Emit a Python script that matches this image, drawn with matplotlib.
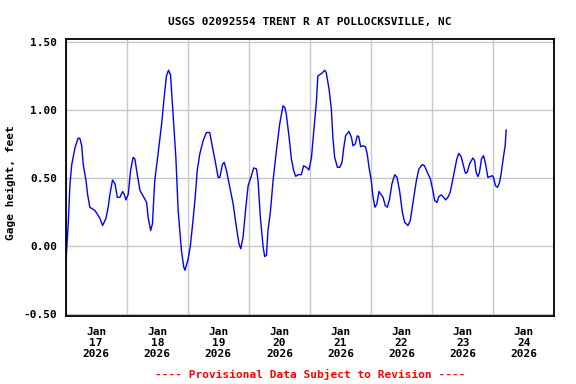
import numpy as np
import pandas as pd
import matplotlib
matplotlib.use('Agg')
import matplotlib.pyplot as plt
import matplotlib.dates as mdates

# hours after 2026-01-17 00:00 and gage height in feet
hours = [0.2, 1.0, 1.7, 2.4, 3.7, 4.9, 5.6, 6.3, 6.9, 8.0, 8.6, 9.5, 11.5, 12.8, 13.5,
         14.5, 15.8, 16.7, 17.4, 18.4, 19.4, 20.3, 21.3, 22.4, 23.0, 23.7, 24.6, 25.5,
         26.5, 27.2, 28.1, 29.2, 30.5, 31.8, 32.4, 33.4, 34.1, 35.0, 36.3, 37.7, 38.7,
         39.6, 40.4, 41.2, 42.2, 43.3, 44.2, 45.5, 46.4, 46.9, 48.1, 49.0, 50.0, 50.9,
         51.7, 52.7, 54.0, 55.3, 56.6, 57.7, 59.0, 59.9, 60.6, 61.6, 62.3, 63.2, 64.5,
         65.8, 67.1, 68.1, 68.8, 69.7, 70.8, 71.7, 73.0, 73.9, 75.0, 75.6, 76.5, 77.6,
         78.2, 78.9, 79.5, 80.5, 81.5, 82.8, 84.1, 85.4, 86.1, 86.7, 87.8, 88.7, 89.6,
         90.4, 91.3, 92.6, 93.5, 94.6, 95.6, 96.6, 97.5, 98.5, 99.1, 100.5, 101.8,
         102.4, 103.5, 104.4, 105.0, 105.7, 106.8, 107.7, 108.6, 109.2, 110.0, 111.3,
         112.3, 112.9, 113.8, 114.6, 115.2, 115.9, 116.8, 117.8, 118.5, 119.2, 120.1,
         120.7, 121.5, 122.3, 123.1, 124.7, 125.6, 126.4, 127.3, 128.2, 129.3, 130.2,
         131.2, 132.3, 133.2, 134.5, 135.4, 136.4, 137.8, 138.8, 140.1, 141.0, 142.1,
         143.3, 144.3, 145.0, 145.9, 146.6, 147.6, 148.5, 149.3, 150.2, 151.1, 151.9,
         152.8, 153.7, 154.5, 155.4, 156.3, 157.1, 157.8, 158.7, 160.0, 160.7, 161.3,
         162.0, 162.6, 163.4, 164.2, 165.0, 165.9, 166.8, 167.6, 168.1, 168.9, 169.7,
         170.5, 171.1, 172.0, 172.7, 173.1]
gage = [-0.09, 0.16, 0.456, 0.60, 0.725, 0.794, 0.79, 0.737, 0.60, 0.48, 0.38, 0.284,
        0.26, 0.223, 0.20, 0.149, 0.20, 0.284, 0.38, 0.485, 0.456, 0.357, 0.357, 0.40,
        0.38, 0.338, 0.38, 0.554, 0.652, 0.64, 0.53, 0.407, 0.365, 0.32, 0.21, 0.113,
        0.162, 0.48, 0.676, 0.897, 1.093, 1.252, 1.294, 1.26, 0.97, 0.652, 0.26, -0.035,
        -0.157, -0.18, -0.10, 0.0, 0.18, 0.357, 0.554, 0.676, 0.774, 0.835, 0.835,
        0.725, 0.60, 0.504, 0.504, 0.60, 0.615, 0.554, 0.431, 0.309, 0.137, 0.015,
        -0.022, 0.063, 0.284, 0.443, 0.517, 0.574, 0.566, 0.48, 0.21, -0.01, -0.079,
        -0.071, 0.113, 0.26, 0.48, 0.70, 0.897, 1.032, 1.019, 0.97, 0.799, 0.64, 0.554,
        0.512, 0.524, 0.524, 0.59, 0.578, 0.559, 0.652, 0.848, 1.056, 1.252, 1.269,
        1.294, 1.276, 1.154, 1.007, 0.799, 0.652, 0.578, 0.578, 0.615, 0.713, 0.811,
        0.843, 0.799, 0.737, 0.75, 0.811, 0.803, 0.73, 0.737, 0.73, 0.676, 0.578, 0.48,
        0.37, 0.284, 0.309, 0.40, 0.357, 0.296, 0.284, 0.346, 0.456, 0.524, 0.504,
        0.407, 0.247, 0.174, 0.149, 0.186, 0.309, 0.48, 0.566, 0.598, 0.59, 0.541,
        0.493, 0.407, 0.333, 0.32, 0.362, 0.375, 0.357, 0.338, 0.357, 0.394, 0.468,
        0.554, 0.64, 0.681, 0.657, 0.59, 0.534, 0.541, 0.603, 0.647, 0.627, 0.541, 0.51,
        0.541, 0.64, 0.664, 0.603, 0.504, 0.51, 0.517, 0.504, 0.443, 0.431, 0.468, 0.53,
        0.652, 0.737, 0.853]

title = "USGS 02092554 TRENT R AT POLLOCKSVILLE, NC"
ylabel = "Gage height, feet"
footnote = "---- Provisional Data Subject to Revision ----"
yticks = [-0.5, 0.0, 0.5, 1.0, 1.5]

start = pd.Timestamp("2026-01-17")
times = start + pd.to_timedelta(hours, unit="h")

font = "DejaVu Sans Mono"
fs = 8

fig = plt.figure(figsize=(5.76, 3.84), dpi=100)
ax = fig.add_axes([0.114, 0.178, 0.8483, 0.7197])

ax.plot(times, gage, color="#0000ff", linewidth=1.0)

ax.set_xlim(start, start + pd.Timedelta(days=8))
ax.set_ylim(-0.515, 1.522)

# gridlines at midnight, labels at noon
ax.xaxis.set_major_locator(mdates.DayLocator())
ax.xaxis.set_major_formatter(plt.NullFormatter())
ax.xaxis.set_minor_locator(mdates.HourLocator(byhour=[12]))
ax.xaxis.set_minor_formatter(mdates.DateFormatter("%b\n%d\n%Y"))
ax.tick_params(axis="x", which="both", length=0)
ax.tick_params(axis="x", which="minor", pad=8)
ax.tick_params(axis="y", length=0, pad=6)

ax.set_yticks(yticks)
ax.set_yticklabels(["%.2f" % v for v in yticks])
ax.grid(True, which="major", color="#c8c8c8", linewidth=1.0)
ax.set_axisbelow(True)

for lab in ax.get_xticklabels(minor=True) + ax.get_yticklabels():
    lab.set_fontfamily(font)
    lab.set_fontweight("bold")
    lab.set_fontsize(fs)
for lab in ax.get_xticklabels(minor=True):
    lab.set_linespacing(1.17)

for sp in ax.spines.values():
    sp.set_linewidth(1.3)
    sp.set_color("black")

ax.set_title(title, fontfamily=font, fontweight="bold", fontsize=fs, pad=10)
ax.set_ylabel(ylabel, fontfamily=font, fontweight="bold", fontsize=fs)
ax.yaxis.set_label_coords(-0.102, 0.48)
fig.text(0.538, 0.015, footnote, color="#ff0000", fontfamily=font,
         fontweight="bold", fontsize=fs, ha="center")

fig.savefig("out.png", dpi=100)
